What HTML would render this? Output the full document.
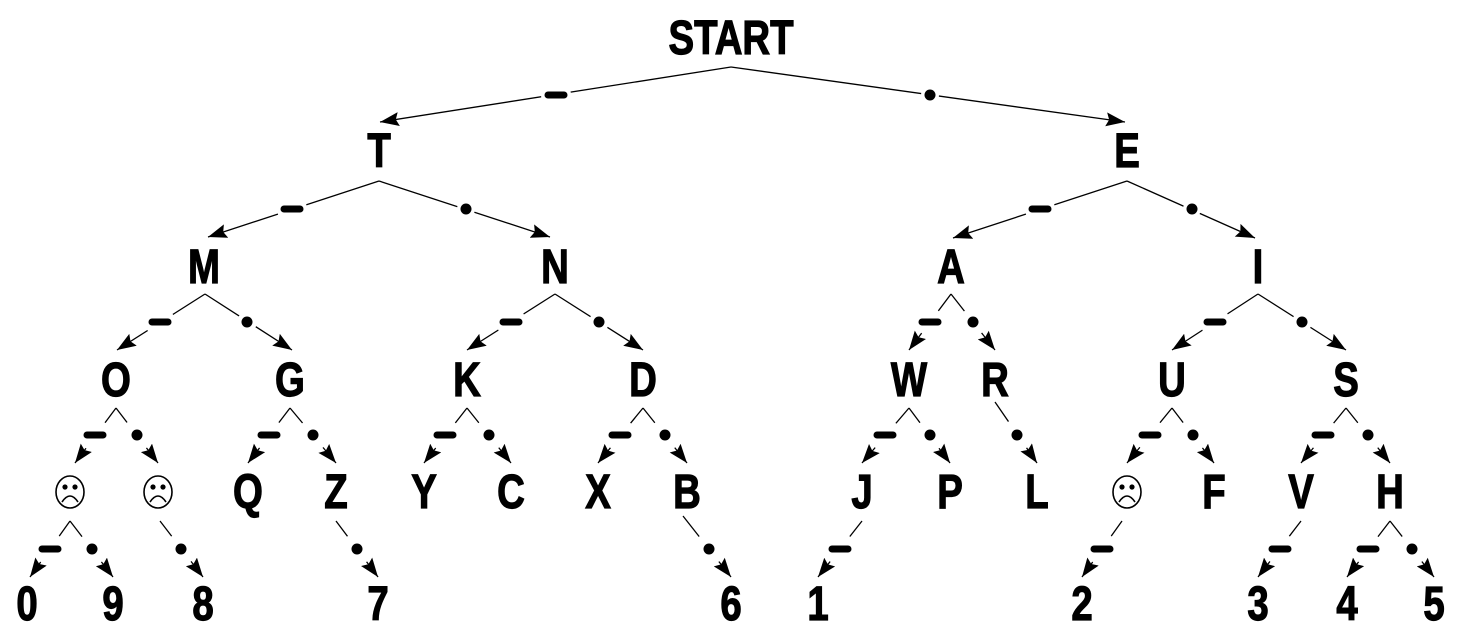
<!DOCTYPE html>
<html><head><meta charset="utf-8"><style>
html,body{margin:0;padding:0;background:#fff;}
svg{display:block;}
text{font-family:"Liberation Sans Narrow","Liberation Sans",sans-serif;font-weight:bold;font-size:48px;text-anchor:middle;fill:#000;stroke:#000;stroke-width:1.2;transform-box:fill-box;transform-origin:center;transform:scaleX(0.8);}
</style></head><body>
<svg width="1460" height="642" viewBox="0 0 1460 642" xmlns="http://www.w3.org/2000/svg">
<defs>
<marker id="a" markerUnits="userSpaceOnUse" markerWidth="22" markerHeight="16" refX="19" refY="7" orient="auto">
<path d="M0,0 L19,7 L0,14 L3,7 Z" fill="#000"/>
</marker>
</defs>
<g stroke="#000" stroke-width="1.3" fill="none" marker-end="url(#a)">
<line x1="731" y1="67" x2="380" y2="122"/><line x1="731" y1="67" x2="1125" y2="122"/>
<line x1="379" y1="181" x2="208" y2="237"/><line x1="379" y1="181" x2="550" y2="237"/>
<line x1="1127" y1="181" x2="953" y2="238"/><line x1="1127" y1="181" x2="1255" y2="238"/>
<line x1="205" y1="294" x2="117" y2="350"/><line x1="205" y1="294" x2="292" y2="350"/>
<line x1="555" y1="294" x2="467" y2="350"/><line x1="555" y1="294" x2="643" y2="350"/>
<line x1="951" y1="294" x2="909" y2="350"/><line x1="951" y1="294" x2="995" y2="350"/>
<line x1="1258" y1="294" x2="1172" y2="350"/><line x1="1258" y1="294" x2="1346" y2="350"/>
<line x1="116" y1="408" x2="75" y2="463"/><line x1="116" y1="408" x2="158" y2="463"/>
<line x1="290" y1="408" x2="248" y2="463"/><line x1="290" y1="408" x2="336" y2="463"/>
<line x1="467" y1="408" x2="424" y2="463"/><line x1="467" y1="408" x2="511" y2="463"/>
<line x1="643" y1="408" x2="598" y2="463"/><line x1="643" y1="408" x2="687" y2="463"/>
<line x1="909" y1="408" x2="862" y2="463"/><line x1="909" y1="408" x2="950" y2="463"/>
<line x1="995" y1="402" x2="1037" y2="463"/>
<line x1="1172" y1="408" x2="1127" y2="463"/><line x1="1172" y1="408" x2="1214" y2="463"/>
<line x1="1346" y1="408" x2="1301" y2="463"/><line x1="1346" y1="408" x2="1390" y2="463"/>
<line x1="70" y1="521" x2="30" y2="577"/><line x1="70" y1="521" x2="113" y2="577"/>
<line x1="160" y1="521" x2="203" y2="577"/>
<line x1="336" y1="521" x2="378" y2="577"/>
<line x1="683" y1="516" x2="731" y2="577"/>
<line x1="862" y1="521" x2="818" y2="577"/>
<line x1="1122" y1="521" x2="1082" y2="577"/>
<line x1="1301" y1="521" x2="1258" y2="577"/>
<line x1="1390" y1="521" x2="1347" y2="577"/><line x1="1390" y1="521" x2="1434" y2="577"/>
</g>
<g fill="#fff">
<circle cx="556" cy="95" r="15"/><circle cx="930" cy="95" r="9"/>
<circle cx="292" cy="209" r="15"/><circle cx="466" cy="209" r="9"/>
<circle cx="1040" cy="209" r="15"/><circle cx="1192" cy="209" r="9"/>
<circle cx="160" cy="322" r="15"/><circle cx="247" cy="322" r="10"/>
<circle cx="511" cy="322" r="15"/><circle cx="599" cy="322" r="10"/>
<circle cx="930" cy="322" r="14"/><circle cx="973" cy="322" r="14"/>
<circle cx="1215" cy="322" r="15"/><circle cx="1302" cy="322" r="10"/>
<circle cx="95" cy="435" r="16"/><circle cx="137" cy="435" r="16"/>
<circle cx="269" cy="435" r="16"/><circle cx="313" cy="435" r="16"/>
<circle cx="445" cy="435" r="16"/><circle cx="489" cy="435" r="16"/>
<circle cx="620" cy="435" r="16"/><circle cx="665" cy="435" r="16"/>
<circle cx="885" cy="435" r="16"/><circle cx="930" cy="435" r="16"/>
<circle cx="1017" cy="435" r="16"/>
<circle cx="1150" cy="435" r="16"/><circle cx="1193" cy="435" r="16"/>
<circle cx="1323" cy="435" r="16"/><circle cx="1368" cy="435" r="16"/>
<circle cx="50" cy="549" r="16"/><circle cx="92" cy="549" r="16"/>
<circle cx="181" cy="549" r="16"/><circle cx="357" cy="549" r="16"/>
<circle cx="709" cy="549" r="16"/><circle cx="840" cy="549" r="16"/>
<circle cx="1102" cy="549" r="16"/><circle cx="1280" cy="549" r="16"/>
<circle cx="1368" cy="549" r="16"/><circle cx="1412" cy="549" r="16"/>
</g>
<g stroke="#000" stroke-width="7" stroke-linecap="round">
<line x1="548" y1="95" x2="564" y2="95"/>
<line x1="284" y1="209" x2="300" y2="209"/>
<line x1="1032" y1="209" x2="1048" y2="209"/>
<line x1="152" y1="322" x2="168" y2="322"/>
<line x1="503" y1="322" x2="519" y2="322"/>
<line x1="922" y1="322" x2="938" y2="322"/>
<line x1="1207" y1="322" x2="1223" y2="322"/>
<line x1="87" y1="435" x2="103" y2="435"/>
<line x1="261" y1="435" x2="277" y2="435"/>
<line x1="437" y1="435" x2="453" y2="435"/>
<line x1="612" y1="435" x2="628" y2="435"/>
<line x1="877" y1="435" x2="893" y2="435"/>
<line x1="1142" y1="435" x2="1158" y2="435"/>
<line x1="1315" y1="435" x2="1331" y2="435"/>
<line x1="42" y1="549" x2="58" y2="549"/>
<line x1="832" y1="549" x2="848" y2="549"/>
<line x1="1094" y1="549" x2="1110" y2="549"/>
<line x1="1272" y1="549" x2="1288" y2="549"/>
<line x1="1360" y1="549" x2="1376" y2="549"/>
</g>
<g fill="#000">
<circle cx="930" cy="95" r="5.5"/><circle cx="466" cy="209" r="5.5"/><circle cx="1192" cy="209" r="5.5"/>
<circle cx="247" cy="322" r="5.5"/><circle cx="599" cy="322" r="5.5"/><circle cx="973" cy="322" r="5.5"/><circle cx="1302" cy="322" r="5.5"/>
<circle cx="137" cy="435" r="5.5"/><circle cx="313" cy="435" r="5.5"/><circle cx="489" cy="435" r="5.5"/><circle cx="665" cy="435" r="5.5"/>
<circle cx="930" cy="435" r="5.5"/><circle cx="1017" cy="435" r="5.5"/><circle cx="1193" cy="435" r="5.5"/><circle cx="1368" cy="435" r="5.5"/>
<circle cx="92" cy="549" r="5.5"/><circle cx="181" cy="549" r="5.5"/><circle cx="357" cy="549" r="5.5"/><circle cx="709" cy="549" r="5.5"/><circle cx="1412" cy="549" r="5.5"/>
</g>
<g fill="none" stroke="#000" stroke-width="1.6">
<g transform="translate(70,492)"><ellipse rx="14" ry="16"/><circle cx="-5" cy="-5" r="1.8" fill="#000"/><circle cx="5" cy="-5" r="1.8" fill="#000"/><path d="M-8,10 Q0,-2 8,10"/></g>
<g transform="translate(158,492)"><ellipse rx="14" ry="16"/><circle cx="-5" cy="-5" r="1.8" fill="#000"/><circle cx="5" cy="-5" r="1.8" fill="#000"/><path d="M-8,10 Q0,-2 8,10"/></g>
<g transform="translate(1127,492)"><ellipse rx="14" ry="16"/><circle cx="-5" cy="-5" r="1.8" fill="#000"/><circle cx="5" cy="-5" r="1.8" fill="#000"/><path d="M-8,10 Q0,-2 8,10"/></g>
</g>
<text x="731" y="54">START</text>
<text x="379" y="167">T</text><text x="1127" y="167">E</text>
<text x="204" y="283">M</text><text x="555" y="283">N</text><text x="951" y="283">A</text><text x="1258" y="283">I</text>
<text x="116" y="396">O</text><text x="290" y="396">G</text><text x="467" y="396">K</text><text x="643" y="396">D</text>
<text x="909" y="396">W</text><text x="995" y="396">R</text><text x="1172" y="396">U</text><text x="1346" y="396">S</text>
<text x="248" y="508">Q</text><text x="336" y="508">Z</text><text x="424" y="508">Y</text><text x="511" y="508">C</text>
<text x="598" y="508">X</text><text x="687" y="508">B</text><text x="862" y="508">J</text><text x="950" y="508">P</text>
<text x="1037" y="508">L</text><text x="1214" y="508">F</text><text x="1301" y="508">V</text><text x="1390" y="508">H</text>
<text x="27" y="620">0</text><text x="113" y="620">9</text><text x="203" y="620">8</text><text x="378" y="620">7</text>
<text x="731" y="620">6</text><text x="818" y="620">1</text><text x="1082" y="620">2</text><text x="1258" y="620">3</text>
<text x="1347" y="620">4</text><text x="1434" y="620">5</text>
</svg>
</body></html>
